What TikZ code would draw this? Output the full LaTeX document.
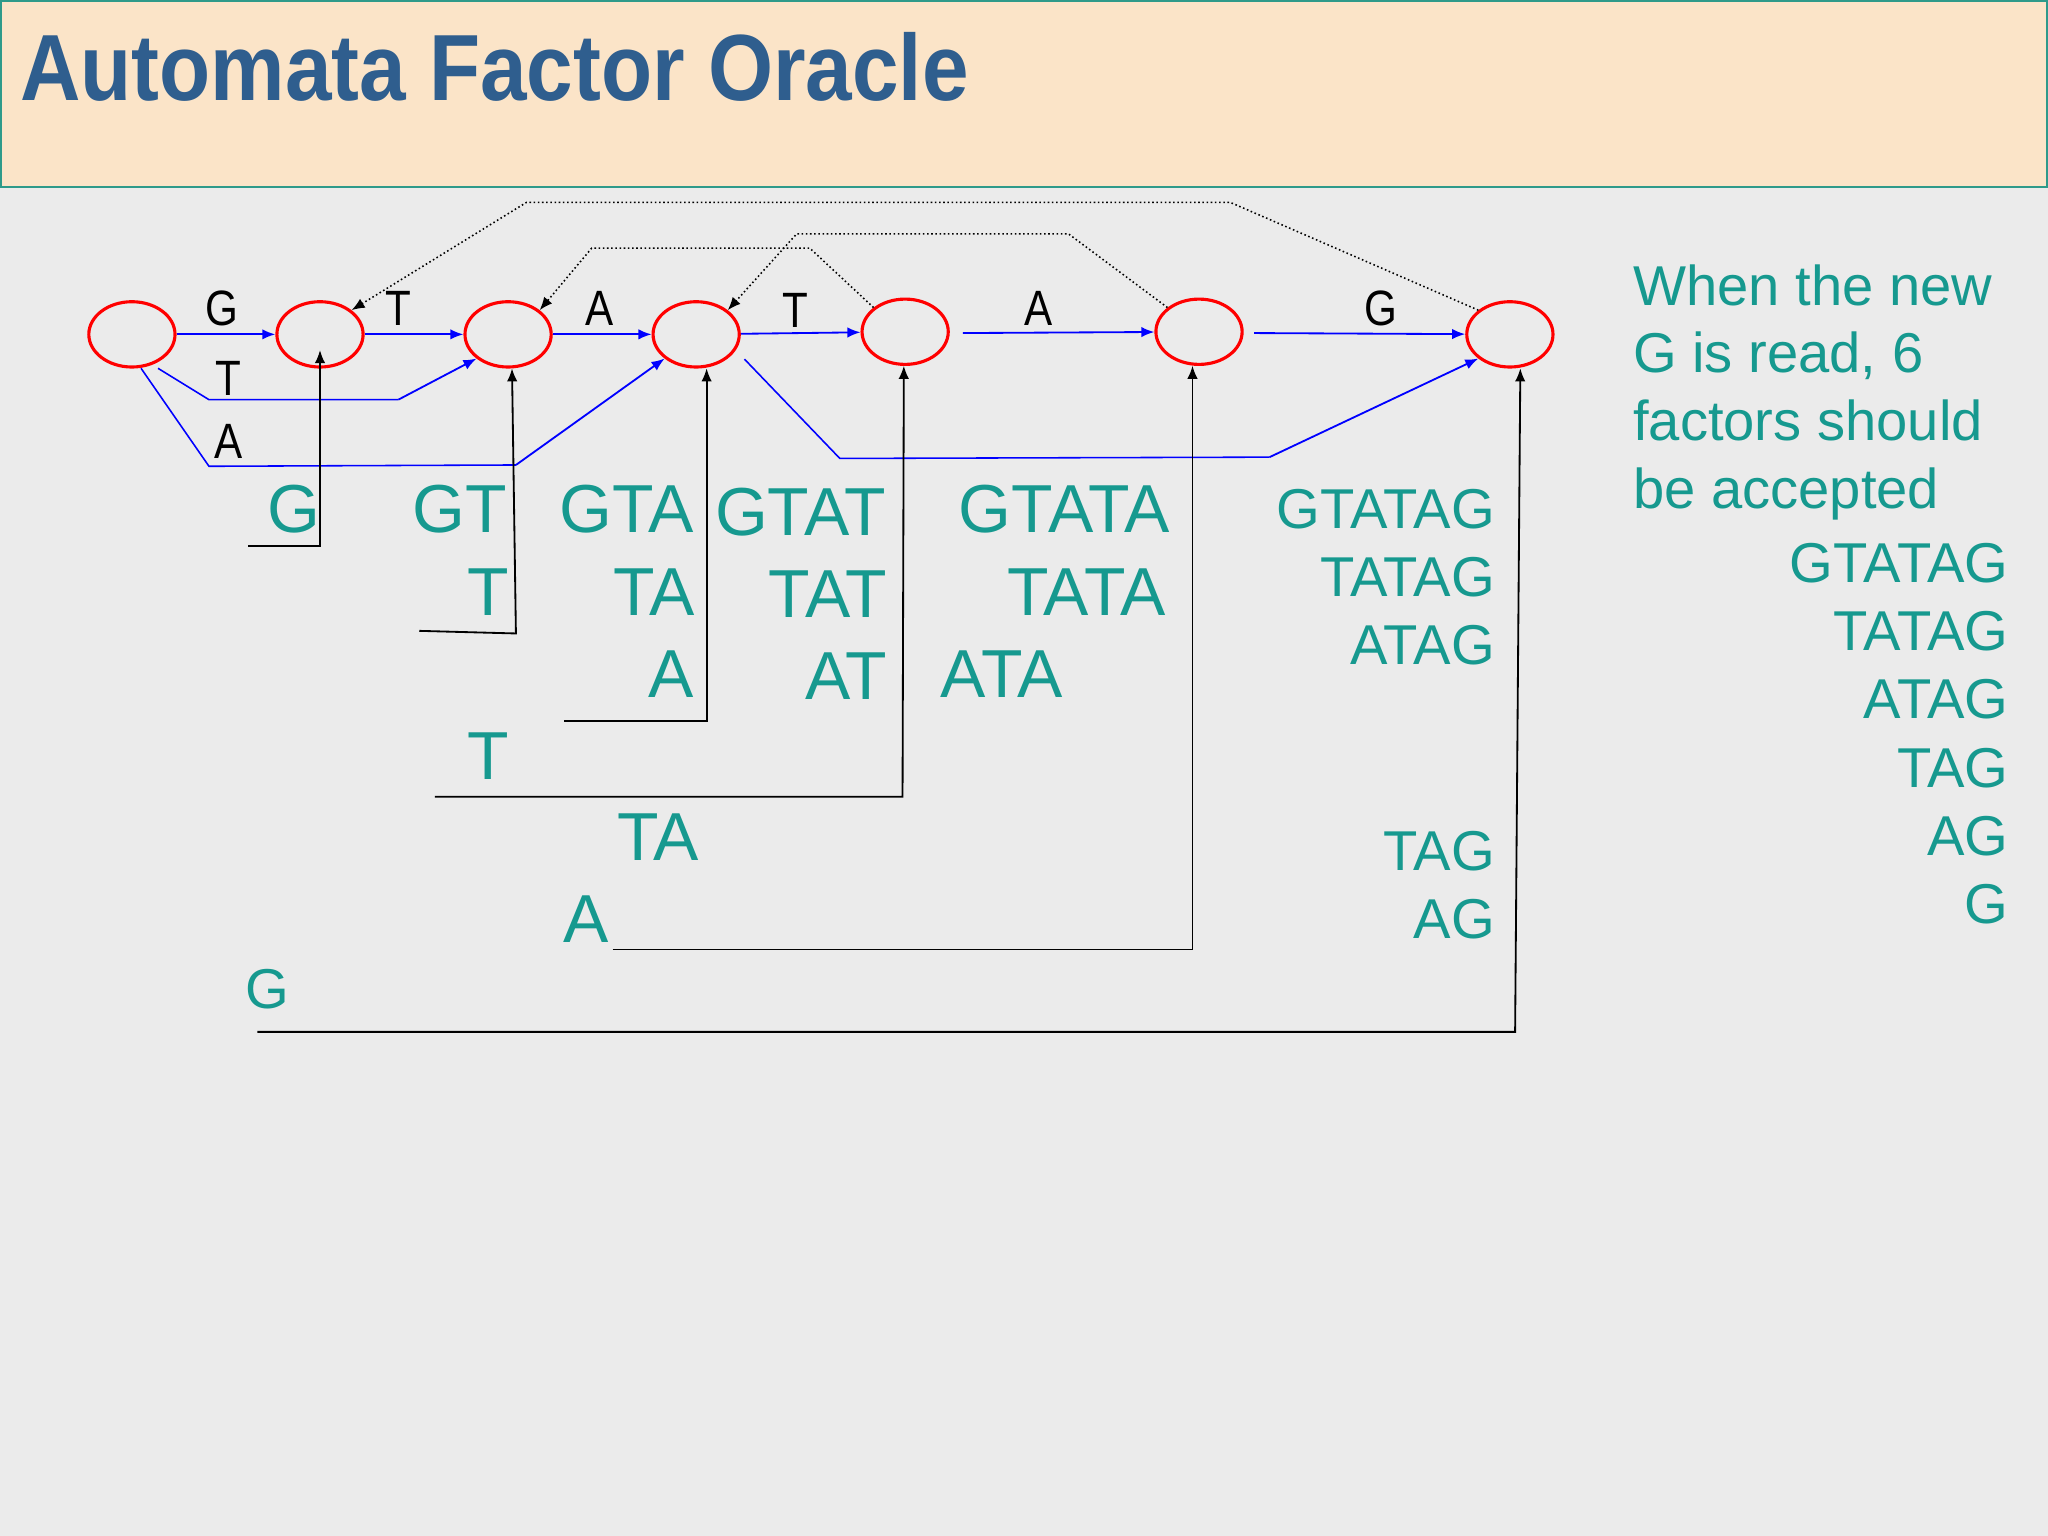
\documentclass[tikz,border=0pt]{standalone}
\usepackage{fontspec}
\setmainfont{Liberation Sans}
\usetikzlibrary{arrows.meta,shapes.geometric}
\definecolor{bg}{HTML}{EBEBEB}
\definecolor{hdr}{HTML}{FBE4C8}
\definecolor{hbord}{HTML}{2E9A8A}
\definecolor{ttl}{HTML}{2F5E8E}
\definecolor{tl}{HTML}{16998F}
\tikzset{
 st/.style={ellipse,draw=red,line width=1.2pt,minimum width=33pt,minimum height=25pt,inner sep=0},
 tr/.style={blue,line width=0.7pt,-{Latex[length=5pt,width=4pt]}},
 bl/.style={blue,line width=0.6pt},
 sfx/.style={black,densely dotted,line width=0.6pt},
 up/.style={black,line width=0.7pt},
 lab/.style={font=\fontsize{19}{19}\selectfont,inner sep=0,xscale=0.85},
 big/.style={text=tl,font=\fontsize{26}{26}\selectfont,inner sep=0},
 mid/.style={text=tl,font=\fontsize{21.5}{26}\selectfont,inner sep=0},
}
\begin{document}
\begin{tikzpicture}[x=0.5pt,y=-0.5pt]
\fill[bg] (0,0) rectangle (1568,1176);
\useasboundingbox (0,0) rectangle (1568,1176);
\draw[hbord,fill=hdr,line width=0.8pt] (1,1) rectangle (1567,143);
\node[anchor=base west,text=ttl,font=\bfseries\fontsize{36}{36}\selectfont,inner sep=0,xscale=0.89] (title) at (15,77) {Automata Factor Oracle};
% states
\foreach \n/\x/\y in {s0/101/256,s1/245/256,s2/389/256,s3/533/256,s4/693/254,s5/918/254,s6/1156/256}
  \node[st] (\n) at (\x,\y) {};
\draw[tr] (s0) -- (s1); \draw[tr] (s1) -- (s2); \draw[tr] (s2) -- (s3);
\draw[tr] (s3) -- (s4); \draw[tr] (s4.east) ++(10,1) -- (s5); \draw[tr] (s5.east) ++(8,1) -- (s6);
\node[lab] (l1) at (170,236) {G}; \node[lab] (l2) at (305,236) {T};
\node[lab] (l3) at (459,236) {A}; \node[lab] (l4) at (609,238) {T};
\node[lab] (l5) at (795,236) {A}; \node[lab] (l6) at (1057,236) {G};
% extra transitions
\coordinate (a1) at (160,306); \coordinate (a2) at (305,306);
\draw[bl] (121,282) -- (a1) -- (a2);
\draw[tr] (a2) -- (s2.south west);
\node[lab] (lt) at (175,290) {T};
\coordinate (b1) at (160,357); \coordinate (b2) at (395,356);
\draw[bl] (108,282) -- (b1) -- (b2);
\draw[tr] (b2) -- (s3.south west);
\node[lab] (la) at (175,338) {A};
\coordinate (c1) at (643,351); \coordinate (c2) at (972,350);
\draw[bl] (570,275) -- (c1) -- (c2);
\draw[tr] (c2) -- (s6.south west);
% suffix links
\draw[sfx,-{Latex[length=5pt,width=4pt]}] (s6.north west) -- (942,155) -- (403,155) -- (s1.north east);
\draw[sfx,-{Latex[length=5pt,width=4pt]}] (s4.north west) -- (620,190) -- (453,190) -- (s2.north east);
\draw[sfx,-{Latex[length=5pt,width=4pt]}] (s5.north west) -- (818,179) -- (610,179) -- (s3.north east);
% up arrows
\draw[up,-{Latex[length=5pt,width=4pt]}] (190,418) -- (245,418) -- (245,268);
\draw[up,-{Latex[length=5pt,width=4pt]}] (321,483) -- (395,485) -- (392,282);
\draw[up,-{Latex[length=5pt,width=4pt]}] (432,552) -- (541,552) -- (541,282);
\draw[up,-{Latex[length=5pt,width=4pt]}] (333,610) -- (691,610) -- (692,280);
\draw[up,-{Latex[length=5pt,width=4pt]}] (469,727) -- (913,727) -- (913,280);
\draw[up,-{Latex[length=5pt,width=4pt]}] (197,790) -- (1160,790) -- (1164,282);
% factor labels
\node[big] (f1) at (225,390) {G};
\node[big] (f2) at (352,390) {GT};
\node[big] (f3) at (480,390) {GTA};
\node[big] (f4) at (613,392) {GTAT};
\node[big] (f5) at (815,390) {GTATA};
\node[big] (f6) at (374,453) {T};
\node[big] (f7) at (501,453) {TA};
\node[big] (f8) at (634,455) {TAT};
\node[big] (f9) at (832,453) {TATA};
\node[big] (f10) at (514,516) {A};
\node[big] (f11) at (648,518) {AT};
\node[big] (f12) at (767,516) {ATA};
\node[big] (f13) at (374,579) {T};
\node[big] (f14) at (504,641) {TA};
\node[big] (f15) at (449,704) {A};
\node[mid] (f16) at (205,757) {G};
\node[mid,anchor=east] (g1) at (1145,390) {GTATAG};
\node[mid,anchor=east] (g2) at (1145,442) {TATAG};
\node[mid,anchor=east] (g3) at (1145,494) {ATAG};
\node[mid,anchor=east] (g4) at (1145,652) {TAG};
\node[mid,anchor=east] (g5) at (1145,704) {AG};
% right text
\node[mid,anchor=north west,align=left] (txt) at (1250,202) {When the new\\G is read, 6\\factors should\\be accepted};
\foreach \t/\y [count=\i] in {GTATAG/431,TATAG/483,ATAG/535,TAG/588,AG/640,G/692}
  \node[mid,anchor=east] (r\i) at (1538,\y) {\t};
\end{tikzpicture}
\end{document}
